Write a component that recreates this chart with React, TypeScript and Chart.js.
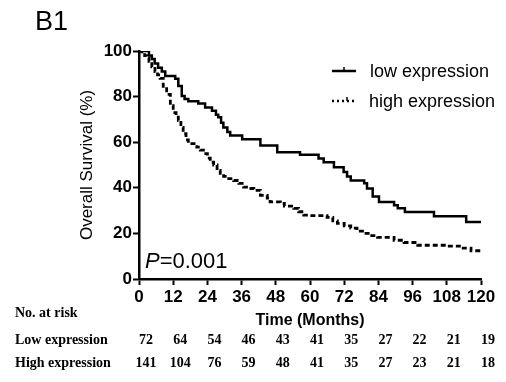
import React, { useEffect, useRef } from "react";
import { Chart, registerables } from "chart.js";

Chart.register(...registerables);

// Kaplan-Meier steps: time of drop (months) and survival after drop (%)
const lowTimes = [0, 3.5, 4.5, 5.5, 6.7, 8, 9.2, 12.7, 13.8, 15, 16, 17.3, 20.8, 23.2, 25.6, 27, 27.8, 28.8, 29.6, 31, 32, 36.2, 42.6, 48.5, 56.5, 63, 64.8, 68.4, 71.8, 73, 74.3, 79, 80, 82, 84.2, 89.5, 90.8, 93.3, 103.5, 114.8, 120];
const lowSurv = [100, 98, 96.5, 94.5, 92.7, 91, 89, 87.8, 84.7, 80.3, 79, 78, 77, 75.2, 73.8, 72, 70.9, 68.5, 66.5, 64.5, 62.9, 61.3, 58.5, 55.6, 54.5, 52.8, 51.2, 49, 46.9, 45, 43.2, 42, 39.7, 36.2, 33.8, 32.3, 31, 29.4, 27.5, 25, 25];

const highTimes = [0, 1, 2, 2.7, 3.5, 4.5, 5.6, 6.5, 7.4, 8.5, 9.7, 11, 12, 13, 13.8, 14.7, 15.5, 16.5, 17.3, 20.3, 21.5, 22.6, 24, 25, 26.2, 27.4, 28.5, 29.7, 31.5, 33.2, 35, 36.7, 38.5, 40.3, 42.6, 45, 46, 49.6, 51, 54.3, 56, 57.8, 60, 66, 68, 69.6, 72, 74.3, 76.5, 79, 81, 83.7, 89.5, 93, 97.8, 108, 113, 116.5, 120];
const highSurv = [100, 99, 98, 97, 95.5, 93, 91, 89.5, 88, 84.5, 81, 76, 73, 71, 69.5, 66.5, 63.7, 61, 59.4, 57.8, 56.5, 55, 53, 51.2, 50, 47.6, 46.3, 45, 44, 43.2, 41.9, 40.3, 39.7, 38.9, 36.7, 35.5, 33.8, 33.2, 32, 31, 29.5, 28, 27.8, 27, 25.5, 24.4, 23.3, 22.3, 21, 20, 19, 18.3, 17, 16, 14.8, 14.4, 13.5, 12.4, 11.8];

const riskTimes = [0, 12, 24, 36, 48, 60, 72, 84, 96, 108, 120];
const riskLow = [72, 64, 54, 46, 43, 41, 35, 27, 22, 21, 19];
const riskHigh = [141, 104, 76, 59, 48, 41, 35, 27, 23, 21, 18];

const seriesNames = ["low expression", "high expression"];
const panelLabel = "B1";
const pText = "=0.001";

const SANS = "'Liberation Sans', Arial, sans-serif";
const SERIF = "'Liberation Serif', 'Times New Roman', serif";

const extrasPlugin = {
  id: "extras",
  afterDraw(chart: any) {
    const ctx = chart.ctx;
    const xs = chart.scales.x;
    ctx.save();
    ctx.fillStyle = "#000";
    ctx.strokeStyle = "#000";
    // panel label
    ctx.font = `27px ${SANS}`;
    ctx.textBaseline = "alphabetic";
    ctx.textAlign = "left";
    ctx.fillText(panelLabel, 35, 30);

    // legend
    ctx.font = `18px ${SANS}`;
    ctx.textBaseline = "middle";
    ctx.lineWidth = 2.5;
    ctx.setLineDash([]);
    ctx.beginPath();
    ctx.moveTo(332, 71);
    ctx.lineTo(356, 71);
    ctx.stroke();
    ctx.lineWidth = 1.5;
    ctx.beginPath();
    ctx.moveTo(344, 67);
    ctx.lineTo(344, 71);
    ctx.stroke();
    ctx.fillText(seriesNames[0], 370, 72);
    ctx.lineWidth = 2.5;
    ctx.setLineDash([2, 3]);
    ctx.beginPath();
    ctx.moveTo(332, 101);
    ctx.lineTo(356, 101);
    ctx.stroke();
    ctx.setLineDash([]);
    ctx.lineWidth = 1.5;
    ctx.beginPath();
    ctx.moveTo(347, 97);
    ctx.lineTo(347, 101);
    ctx.stroke();
    ctx.fillText(seriesNames[1], 369, 102);

    // P value
    ctx.textBaseline = "alphabetic";
    ctx.font = `italic 22px ${SANS}`;
    ctx.fillText("P", 145, 268);
    const pw = ctx.measureText("P").width;
    ctx.font = `22px ${SANS}`;
    ctx.fillText(pText, 145 + pw, 268);

    // risk table
    ctx.font = `bold 14px ${SERIF}`;
    ctx.textBaseline = "middle";
    ctx.textAlign = "left";
    ctx.fillText("No. at risk", 15, 313);
    ctx.fillText("Low expression", 15, 340);
    ctx.fillText("High expression", 15, 363);
    ctx.textAlign = "center";
    riskTimes.forEach((t, i) => {
      const x = xs.getPixelForValue(t) + 7;
      ctx.fillText(String(riskLow[i]), x, 340);
      ctx.fillText(String(riskHigh[i]), x, 363);
    });
    ctx.restore();
  },
};

export default function App() {
  const ref = useRef<HTMLCanvasElement | null>(null);
  useEffect(() => {
    if (!ref.current) return;
    const chart = new Chart(ref.current, {
      type: "line",
      data: {
        datasets: [
          {
            label: seriesNames[0],
            data: lowTimes.map((t, i) => ({ x: t, y: lowSurv[i] })),
            borderColor: "#000",
            borderWidth: 2.5,
            pointRadius: 0,
            stepped: true,
            fill: false,
          },
          {
            label: seriesNames[1],
            data: highTimes.map((t, i) => ({ x: t, y: highSurv[i] })),
            borderColor: "#000",
            borderWidth: 2.8,
            borderDash: [5, 3],
            pointRadius: 0,
            stepped: true,
            fill: false,
          },
        ],
      },
      options: {
        responsive: false,
        animation: false,
        events: [],
        layout: { padding: { left: 77, right: 25, top: 51, bottom: 52 } },
        plugins: { legend: { display: false }, tooltip: { enabled: false } },
        scales: {
          x: {
            type: "linear",
            min: 0,
            max: 120,
            afterFit: (s: any) => { s.height = 51; },
            ticks: { stepSize: 12, autoSkip: false, maxRotation: 0, minRotation: 0, color: "#000", padding: 2, font: { family: SANS, size: 17, weight: "bold" } },
            grid: { drawOnChartArea: false, drawTicks: true, tickLength: 6, color: "#000", tickWidth: 2 },
            border: { color: "#000", width: 2.5 },
            title: { display: true, text: "Time (Months)", color: "#000", padding: 0, font: { family: SANS, size: 16, weight: "bold" } },
          },
          y: {
            min: 0,
            max: 100,
            afterFit: (s: any) => { s.width = 62; },
            ticks: { stepSize: 20, color: "#000", padding: 1, font: { family: SANS, size: 17, weight: "bold" } },
            grid: { drawOnChartArea: false, drawTicks: true, tickLength: 6, color: "#000", tickWidth: 2 },
            border: { color: "#000", width: 2.5 },
            title: { display: true, text: "Overall Survival (%)", color: "#000", padding: 0, font: { family: SANS, size: 17 } },
          },
        },
      },
      plugins: [extrasPlugin],
    });
    return () => chart.destroy();
  }, []);
  return (
    <div style={{ position: "fixed", left: 0, top: 0, width: 506, height: 382, background: "#fff" }}>
      <canvas ref={ref} width={506} height={382} style={{ width: 506, height: 382, display: "block" }} />
    </div>
  );
}
